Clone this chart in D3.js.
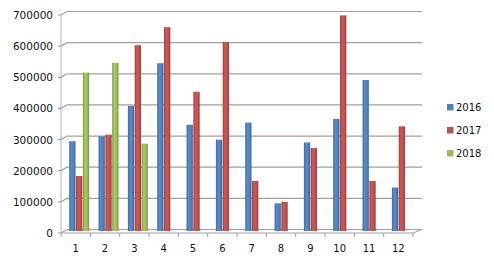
<!DOCTYPE html>
<html>
<head>
<meta charset="utf-8">
<script src="https://cdn.jsdelivr.net/npm/d3@7"></script>
<style>
  body { margin: 0; background: #fff; }
  text { font-family: "DejaVu Sans", sans-serif; fill: #111; }
</style>
</head>
<body>
<svg id="chart" width="494" height="261"></svg>
<script>
// data
var months = ["1", "2", "3", "4", "5", "6", "7", "8", "9", "10", "11", "12"];
var series = ["2016", "2017", "2018"];
var v2016 = [289000, 305000, 403000, 540000, 342000, 294000, 349000, 89000, 285000, 361000, 486000, 140000];
var v2017 = [177000, 310000, 598000, 656000, 448000, 608000, 161000, 94000, 267000, 694000, 161000, 337000];
var v2018 = [510000, 541000, 281000, null, null, null, null, null, null, null, null, null];
var yTicks = [0, 100000, 200000, 300000, 400000, 500000, 600000, 700000];
var colors = { "2016": "#4f81bd", "2017": "#c0504d", "2018": "#9bbb59" };

var values = { "2016": v2016, "2017": v2017, "2018": v2018 };

var svg = d3.select("#chart");

// front axis and back wall (simple fake 3d depth)
var left = 61, right = 413, depthX = 6, depthY = 3.5;
var yFront = d3.scaleLinear().domain([0, 700000]).range([233, 15]);
var yBar = d3.scaleLinear().domain([0, 700000]).range([231, 13.5]);
var x0 = d3.scaleBand().domain(months).range([left, right]);
var x1 = d3.scaleBand().domain(series)
    .range([x0.bandwidth() * 0.28, x0.bandwidth() * 0.96])
    .paddingInner(0.08);

// gradients for the rounded bar look
var defs = svg.append("defs");
series.forEach(function (s) {
  var c = d3.color(colors[s]);
  var g = defs.append("linearGradient").attr("id", "g" + s)
      .attr("x1", "0%").attr("x2", "100%").attr("y1", "0%").attr("y2", "0%");
  g.append("stop").attr("offset", "0%").attr("stop-color", c.darker(0.6));
  g.append("stop").attr("offset", "35%").attr("stop-color", c.brighter(0.25));
  g.append("stop").attr("offset", "70%").attr("stop-color", c);
  g.append("stop").attr("offset", "100%").attr("stop-color", c.darker(0.7));
});

// gridlines: short slant on the side wall, then flat across the back wall
var gridColor = "#a89c9c";
svg.append("g").selectAll("path.grid")
  .data(yTicks)
  .enter()
  .append("path")
  .attr("class", "grid")
  .attr("fill", "none")
  .attr("stroke", gridColor)
  .attr("stroke-width", 1.2)
  .attr("d", function (d) {
    var yf = yFront(d), yb = yFront(d) - depthY;
    return "M" + (left - 3) + "," + yf + "L" + left + "," + yf +
      "L" + (left + depthX) + "," + yb + "L" + (right + 9) + "," + yb;
  });

// floor
svg.append("path")
  .attr("fill", "none")
  .attr("stroke", "#a0a0a8")
  .attr("d", "M" + left + "," + yFront(0) + "L" + right + "," + yFront(0) +
    "L" + (right + 9) + "," + (yFront(0) - depthY));

// left axis line
svg.append("line")
  .attr("x1", left).attr("x2", left)
  .attr("y1", yFront(700000)).attr("y2", yFront(0))
  .attr("stroke", "#b0b0b8");

// x ticks
svg.append("g").selectAll("line.xt")
  .data(months.concat(["end"]))
  .enter()
  .append("line")
  .attr("x1", function (d, i) { return left + i * x0.step(); })
  .attr("x2", function (d, i) { return left + i * x0.step(); })
  .attr("y1", yFront(0))
  .attr("y2", yFront(0) + 4)
  .attr("stroke", "#a0a0a8");

// bars
var groups = svg.append("g").selectAll("g.month")
  .data(months)
  .enter()
  .append("g")
  .attr("transform", function (d) { return "translate(" + x0(d) + ",0)"; });

groups.selectAll("rect")
  .data(function (d, i) {
    return series.map(function (s) { return { s: s, v: values[s][i] }; })
      .filter(function (e) { return e.v != null; });
  })
  .enter()
  .append("rect")
  .attr("x", function (d) { return x1(d.s); })
  .attr("width", x1.bandwidth())
  .attr("y", function (d) { return yBar(d.v); })
  .attr("height", function (d) { return yBar(0) - yBar(d.v); })
  .attr("fill", function (d) { return "url(#g" + d.s + ")"; });

// y labels
svg.append("g").selectAll("text.yl")
  .data(yTicks)
  .enter()
  .append("text")
  .attr("x", 53)
  .attr("y", function (d) { return yFront(d) + 4; })
  .attr("text-anchor", "end")
  .attr("font-size", "10.5px")
  .text(function (d) { return d; });

// x labels
svg.append("g").selectAll("text.xl")
  .data(months)
  .enter()
  .append("text")
  .attr("x", function (d) { return x0(d) + x0.bandwidth() / 2; })
  .attr("y", 252)
  .attr("text-anchor", "middle")
  .attr("font-size", "10px")
  .text(function (d) { return d; });

// legend
var legend = svg.append("g").selectAll("g.leg")
  .data(series)
  .enter()
  .append("g")
  .attr("transform", function (d, i) { return "translate(447," + (104 + i * 23) + ")"; });
legend.append("rect")
  .attr("width", 6.5).attr("height", 6.5)
  .attr("fill", function (d) { return colors[d]; });
legend.append("text")
  .attr("x", 9).attr("y", 7)
  .attr("font-size", "10px")
  .text(function (d) { return d; });
</script>
</body>
</html>
